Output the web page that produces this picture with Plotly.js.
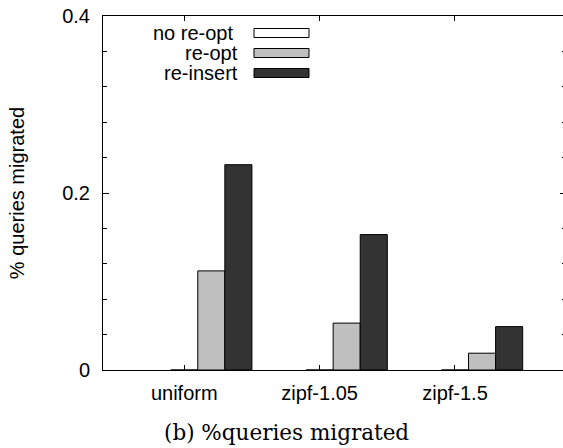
<!DOCTYPE html>
<html>
<head>
<meta charset="utf-8">
<script src="https://cdn.plot.ly/plotly-3.0.1.min.js"></script>
<style>
  html, body { margin: 0; padding: 0; overflow: hidden; background: #fff; }
  #chart { width: 566px; height: 448px; }
</style>
</head>
<body>
<div id="chart"></div>
<script>
// Workload distributions along the x axis
const categories = ["uniform", "zipf-1.05", "zipf-1.5"];

// Fraction of queries migrated per strategy
const seriesNames = ["no re-opt", "re-opt", "re-insert"];
const noReopt  = [0, 0, 0];
const reopt    = [0.112, 0.053, 0.019];
const reinsert = [0.232, 0.153, 0.049];

const yTickVals = [0, 0.2, 0.4];
const yTickText = ["0", "0.2", "0.4"];

const seriesValues = [noReopt, reopt, reinsert];
const fills = ["#ffffff", "#bfbfbf", "#333333"];

const W = 566, H = 448;
const M = { l: 103, r: 0, t: 16, b: 78 };
const plotW = W - M.l - M.r, plotH = H - M.t - M.b;
const px = x => (x - M.l) / plotW;
const py = y => (H - M.b - y) / plotH;

const barW = 0.2;
const font = { family: "'Liberation Sans', Arial, sans-serif", size: 20, color: "#000" };

const traces = seriesValues.map((vals, i) => ({
  type: "bar",
  name: seriesNames[i],
  x: categories.map((_, k) => k + i * barW),
  y: vals,
  width: barW,
  marker: { color: fills[i], line: { color: "#000", width: 1 } },
  showlegend: false,
  hoverinfo: "skip"
}));

// Key: right-aligned labels with swatches to their right
const keyRows = [33, 53, 73];
const keyTextRight = [235, 240, 240];
const annotations = seriesNames.map((n, i) => ({
  xref: "paper", yref: "paper",
  x: px(keyTextRight[i]), y: py(keyRows[i]),
  xanchor: "right", yanchor: "middle",
  text: n, showarrow: false, font: font
}));
const shapes = seriesNames.map((n, i) => ({
  type: "rect", xref: "paper", yref: "paper",
  x0: px(254), x1: px(309),
  y0: py(keyRows[i] - 4.5), y1: py(keyRows[i] + 4.5),
  fillcolor: fills[i], line: { color: "#000", width: 1 }
}));

annotations.push({
  xref: "paper", yref: "paper",
  x: px(286), y: py(432),
  xanchor: "center", yanchor: "middle",
  text: "(b) %queries migrated", showarrow: false,
  font: { family: "'DejaVu Serif', serif", size: 21.5, color: "#000" }
});

const layout = {
  width: W, height: H,
  margin: M,
  paper_bgcolor: "#fff", plot_bgcolor: "#fff",
  font: font,
  barmode: "overlay",
  showlegend: false,
  xaxis: {
    range: [-0.6, 2.82],
    tickmode: "array",
    tickvals: categories.map((_, k) => k),
    ticktext: categories,
    ticks: "inside", ticklen: 5, tickcolor: "#000",
    ticklabelstandoff: 5,
    showline: true, linecolor: "#000", linewidth: 1,
    mirror: "allticks",
    showgrid: false, zeroline: false,
    tickfont: font
  },
  yaxis: {
    range: [0, 0.4],
    tickmode: "array",
    tickvals: yTickVals,
    ticktext: yTickText,
    ticks: "inside", ticklen: 6, tickcolor: "#000",
    ticklabelstandoff: 8,
    minor: { dtick: 0.04, ticks: "inside", ticklen: 4, tickcolor: "#000", showgrid: false },
    showline: true, linecolor: "#000", linewidth: 1,
    mirror: "allticks",
    showgrid: false, zeroline: false,
    tickfont: font,
    title: { text: "% queries migrated", font: font, standoff: 32 }
  },
  annotations: annotations,
  shapes: shapes
};

Plotly.newPlot("chart", traces, layout, { staticPlot: true, displayModeBar: false });
</script>
</body>
</html>
